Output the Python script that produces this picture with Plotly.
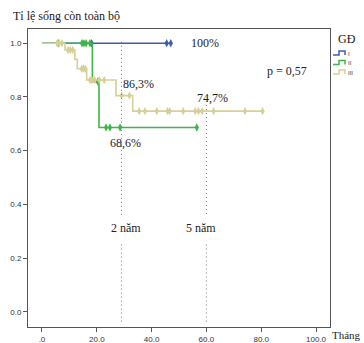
import plotly.graph_objects as go

# ---------------- data ----------------
blue_t = [0, 47.0]
blue_s = [1.0, 1.0]
blue_ct = [18.1, 45.5, 47.0]
blue_cs = [1.0, 1.0, 1.0]

green_t = [0, 18.4, 20.8, 56.5]
green_s = [1.0, 0.857, 0.686, 0.686]
green_ct = [6.0, 14.6, 15.3, 16.1, 17.5, 20.3, 23.4, 24.8, 28.5, 56.5]
green_cs = [1.0, 1.0, 1.0, 1.0, 1.0, 0.857, 0.686, 0.686, 0.686, 0.686]

tan_t = [0, 8.4, 12.0, 12.9, 16.3, 27.0, 33.1, 80.5]
tan_s = [1.0, 0.975, 0.94, 0.905, 0.863, 0.805, 0.747, 0.747]
tan_ct = [5.5, 6.3, 7.3, 9.5, 10.3, 11.2, 14.5, 15.1, 15.8, 17.5, 18.2, 19.2, 20.9, 22.7,
          29.1, 31.9, 35.5, 37.6, 41.9, 45.8, 46.6, 51.5, 55.9, 57.1, 58.4, 62.6, 74.1, 80.5]
tan_cs = [1.0, 1.0, 1.0, 0.975, 0.975, 0.975, 0.905, 0.905, 0.905, 0.863, 0.863, 0.863, 0.863, 0.863,
          0.805, 0.805, 0.747, 0.747, 0.747, 0.747, 0.747, 0.747, 0.747, 0.747, 0.747, 0.747, 0.747, 0.747]

x_ticks = [0, 20, 40, 60, 80, 100]
x_ticklabels = [".0", "20.0", "40.0", "60.0", "80.0", "100.0"]
y_ticks = [0.0, 0.2, 0.4, 0.6, 0.8, 1.0]
y_ticklabels = ["0.0", "0.2", "0.4", "0.6", "0.8", "1.0"]
ref_lines = [29, 60]

BLUE = "#3f5bab"
GREEN = "#3db54a"
TAN = "#d6cf96"

W, H = 364, 343
L, R, T, B = 28, 330, 29, 327


def px(x):
    return (x - L) / (R - L)


def py(y):
    return (B - y) / (B - T)


fig = go.Figure()
for t, s, ct, cs, col in [(blue_t, blue_s, blue_ct, blue_cs, BLUE),
                          (green_t, green_s, green_ct, green_cs, GREEN),
                          (tan_t, tan_s, tan_ct, tan_cs, TAN)]:
    fig.add_trace(go.Scatter(x=t, y=s, mode="lines", line=dict(color=col, width=1.6, shape="hv"),
                             showlegend=False, hoverinfo="skip"))
    fig.add_trace(go.Scatter(x=ct, y=cs, mode="markers",
                             marker=dict(symbol="diamond-tall", size=6, color=col,
                                         line=dict(width=0)),
                             showlegend=False, hoverinfo="skip"))

shapes = []
dot = dict(color="#7a7a7a", width=1, dash="1px,3px")
# dotted reference lines (2 and 5 years)
shapes.append(dict(type="line", xref="x", yref="y", x0=ref_lines[0], x1=ref_lines[0], y0=1.005, y1=0.355, line=dot))
shapes.append(dict(type="line", xref="x", yref="y", x0=ref_lines[0], x1=ref_lines[0], y0=0.25, y1=-0.042, line=dot))
shapes.append(dict(type="line", xref="x", yref="y", x0=ref_lines[1], x1=ref_lines[1], y0=0.785, y1=0.355, line=dot))
shapes.append(dict(type="line", xref="x", yref="y", x0=ref_lines[1], x1=ref_lines[1], y0=0.25, y1=-0.042, line=dot))

# legend step icons
for yy, col in [(53, BLUE), (62.5, GREEN), (72, TAN)]:
    x0 = 333
    path = "M {a},{b} L {c},{b} L {c},{d} L {e},{d} L {e},{f}".format(
        a=px(x0), b=py(yy + 2), c=px(x0 + 6), d=py(yy - 2), e=px(x0 + 12), f=py(yy + 2))
    shapes.append(dict(type="path", xref="paper", yref="paper", path=path,
                       line=dict(color=col, width=1.5)))

serif = "Liberation Serif, Times New Roman, serif"
ann = []


def text(x, y, s, size=12, xref="x", yref="y", xanchor="center", color="#222"):
    ann.append(dict(x=x, y=y, xref=xref, yref=yref, text=s, showarrow=False,
                    font=dict(family=serif, size=size, color=color),
                    xanchor=xanchor, yanchor="middle"))


text(59.5, 1.0, "100%")
text(35.2, 0.847, "86,3%")
text(62.4, 0.795, "74,7%")
text(30.3, 0.627, "68,6%")
text(89.4, 0.898, "p = 0,57")
text(30.5, 0.31, "2 năm")
text(58.1, 0.31, "5 năm")
text(px(11), py(16), "Tỉ lệ sống còn toàn bộ", size=12, xref="paper", yref="paper", xanchor="left")
text(px(363), py(335), "Tháng", size=11, xref="paper", yref="paper", xanchor="right")
text(px(336), py(39), "GĐ", size=12, xref="paper", yref="paper", xanchor="left")
for yy, lab in [(54, "I"), (63.5, "II"), (73, "III")]:
    ann.append(dict(x=px(346), y=py(yy), xref="paper", yref="paper", text=lab, showarrow=False,
                    font=dict(family="Liberation Sans, Arial", size=6, color="#444"),
                    xanchor="left", yanchor="middle"))

fig.update_layout(
    width=W, height=H,
    margin=dict(l=L, r=W - R, t=T, b=H - B, autoexpand=False),
    paper_bgcolor="white", plot_bgcolor="white",
    shapes=shapes, annotations=ann,
    showlegend=False,
)
axis_common = dict(showgrid=False, zeroline=False, showline=True, linecolor="#555", linewidth=1,
                   mirror=True, ticks="outside", ticklen=4, tickcolor="#555", tickwidth=1,
                   automargin=False,
                   tickfont=dict(family="Liberation Sans, Arial", size=8, color="#333"))
fig.update_xaxes(range=[-5.1, 105.1], tickvals=x_ticks, ticktext=x_ticklabels, **axis_common)
fig.update_yaxes(range=[-0.057, 1.053], tickvals=y_ticks, ticktext=y_ticklabels, **axis_common)

fig.write_html("out.html")
